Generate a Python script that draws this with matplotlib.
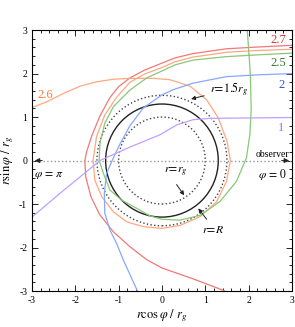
import matplotlib
matplotlib.use("Agg")
import matplotlib.pyplot as plt
from matplotlib.patches import Circle
from matplotlib.ticker import MultipleLocator

plt.rcParams['font.family'] = ['Liberation Serif', 'DejaVu Serif']
plt.rcParams['mathtext.fontset'] = 'stix'
plt.rcParams['axes.unicode_minus'] = False

# impact parameters (units of r_g) and the traced rays
b_red = 2.7
red_x = [3.0, 2.2, 1.49, 0.72, 0.3, 0.0, -0.4, -0.74, -1.0, -1.2, -1.43, -1.62, -1.74, -1.78,
         -1.76, -1.64, -1.44, -1.13, -0.74, -0.35, 0.0, 0.72, 1.38, 1.45]
red_y = [2.65, 2.61, 2.57, 2.46, 2.36, 2.24, 2.08, 1.90, 1.70, 1.45, 1.03, 0.57, 0.2, 0.0,
         -0.37, -0.83, -1.24, -1.63, -1.98, -2.28, -2.47, -2.72, -2.97, -3.0]

b_orange = 2.6
orange_x = [3.0, 2.2, 1.49, 0.72, 0.3, 0.0, -0.4, -0.74, -1.05, -1.32, -1.51, -1.59, -1.55, -1.39, -1.12,
            -0.81, -0.43, 0.0, 0.42, 0.88, 1.26, 1.49, 1.58, 1.50, 1.30, 1.03, 0.65, 0.18, -0.2, -0.74,
            -1.12, -1.51, -1.89, -2.28, -2.66, -3.05]
orange_y = [2.56, 2.53, 2.49, 2.38, 2.27, 2.14, 1.99, 1.80, 1.45, 1.05, 0.55, 0.0, -0.45, -0.83, -1.18,
            -1.41, -1.52, -1.56, -1.49, -1.29, -0.95, -0.48, 0.0, 0.45, 0.98, 1.40, 1.71, 1.86, 1.89, 1.89,
            1.87, 1.81, 1.71, 1.54, 1.35, 1.20]

b_green = 2.5
green_x = [3.0, 2.2, 1.49, 0.72, 0.3, 0.0, -0.35, -0.74, -1.12, -1.32, -1.43, -1.45, -1.35, -1.2, -0.93,
           -0.58, -0.28, 0.0, 0.42, 0.88, 1.34, 1.72, 1.95, 2.03, 2.06, 2.04, 1.97, 1.95]
green_y = [2.47, 2.43, 2.39, 2.31, 2.2, 2.06, 1.90, 1.62, 1.24, 0.86, 0.40, 0.0, -0.30, -0.68, -0.91,
           -1.10, -1.27, -1.35, -1.37, -1.26, -0.94, -0.48, 0.06, 0.6, 1.2, 2.0, 3.0, 3.1]

b_blue = 2
blue_x = [3.0, 2.2, 1.49, 0.72, 0.26, 0.0, -0.43, -0.74, -0.97, -1.15, -1.28, -1.33, -1.32, -1.2,
          -1.05, -0.89, -0.58, -0.57]
blue_y = [2.0, 1.97, 1.93, 1.78, 1.63, 1.51, 1.21, 0.80, 0.38, 0.0, -0.30, -0.75, -1.21, -1.60,
          -1.90, -2.29, -2.97, -3.0]

b_purple = 1
purple_x = [3.03, 1.11, 0.72, 0.34, -0.05, -0.74, -1.1, -1.43, -2.35, -3.05]
purple_y = [0.99, 0.97, 0.94, 0.82, 0.59, 0.31, 0.15, 0.0, -0.75, -1.34]

# circles: r = r_g, r = 1.5 r_g (dotted) and the surface r = R
r_dotted = [1.0, 1.5]
R_star = 1.3

fig = plt.figure(figsize=(2.95, 3.27), dpi=100)
ax = fig.add_axes([0.1085, 0.11, 0.881, 0.798])

ax.axhline(0, color='#999999', ls=':', lw=1.0)
for r in r_dotted:
    ax.add_patch(Circle((0, 0), r, fill=False, ls=':', lw=1.0, ec='#444444'))
ax.add_patch(Circle((0, 0), R_star, fill=False, lw=1.0, ec='#222222'))

ax.plot(red_x, red_y, color='#f07878', lw=0.9)
ax.plot(orange_x, orange_y, color='#ffa880', lw=0.9)
ax.plot(green_x, green_y, color='#88c878', lw=0.9)
ax.plot(blue_x, blue_y, color='#88a8ff', lw=0.9)
ax.plot(purple_x, purple_y, color='#c0a0ff', lw=0.9)

# labels for the curves
ax.text(2.68, 2.78, str(b_red), color='#e03030', fontsize=9, ha='center', va='center')
ax.text(-2.7, 1.51, str(b_orange), color='#ff7838', fontsize=9, ha='center', va='center')
ax.text(2.68, 2.24, str(b_green), color='#307830', fontsize=9, ha='center', va='center')
ax.text(2.76, 1.74, str(b_blue), color='#3050e0', fontsize=9, ha='center', va='center')
ax.text(2.76, 0.75, str(b_purple), color='#9070ff', fontsize=9, ha='center', va='center')

# annotations
ax.annotate(r'$r\!=\!1.5r_g$', xy=(0.61, 1.40), xytext=(1.1, 1.63), fontsize=8.5, va='center',
            arrowprops=dict(arrowstyle='-|>', color='#222222', lw=0.7, mutation_scale=6))
ax.annotate('', xy=(0.55, -0.85), xytext=(0.3, -0.50),
            arrowprops=dict(arrowstyle='-|>', color='#222222', lw=0.7, mutation_scale=6))
ax.text(0.32, -0.27, r'$r\!=\!r_g$', fontsize=8.5, ha='center', va='center')
ax.annotate('', xy=(0.8, -1.05), xytext=(1.07, -1.40),
            arrowprops=dict(arrowstyle='-|>', color='#222222', lw=0.7, mutation_scale=6))
ax.text(1.18, -1.6, r'$r\!=\!R$', fontsize=8.5, ha='center', va='center')

ax.annotate('', xy=(-3.0, 0), xytext=(-2.7, 0),
            arrowprops=dict(arrowstyle='-|>', color='#222222', lw=0.7, mutation_scale=7))
ax.annotate('', xy=(3.0, 0), xytext=(2.7, 0),
            arrowprops=dict(arrowstyle='-|>', color='#222222', lw=0.7, mutation_scale=7))
ax.text(-2.6, -0.33, r'$\varphi\,=\,\pi$', fontsize=8.5, ha='center', va='center')
ax.text(2.56, -0.31, r'$\varphi\,=\,0$', fontsize=8.5, ha='center', va='center')
ax.text(2.55, 0.14, 'observer', fontsize=7, ha='center', va='center')

ax.set_xlim(-3, 3)
ax.set_ylim(-3, 3)
ax.xaxis.set_major_locator(MultipleLocator(1))
ax.yaxis.set_major_locator(MultipleLocator(1))
ax.xaxis.set_minor_locator(MultipleLocator(0.2))
ax.yaxis.set_minor_locator(MultipleLocator(0.2))
ax.tick_params(which='both', direction='in', top=True, right=True, labelsize=7, width=0.6)
ax.tick_params(which='major', length=4)
ax.tick_params(which='minor', length=2)
for s in ax.spines.values():
    s.set_linewidth(0.8)

ax.set_xlabel(r'$r\cos\varphi\ /\ r_g$', fontsize=9, labelpad=2)
ax.set_ylabel(r'$r\sin\varphi\ /\ r_g$', fontsize=9, labelpad=2)

fig.savefig('out.png', dpi=100)
